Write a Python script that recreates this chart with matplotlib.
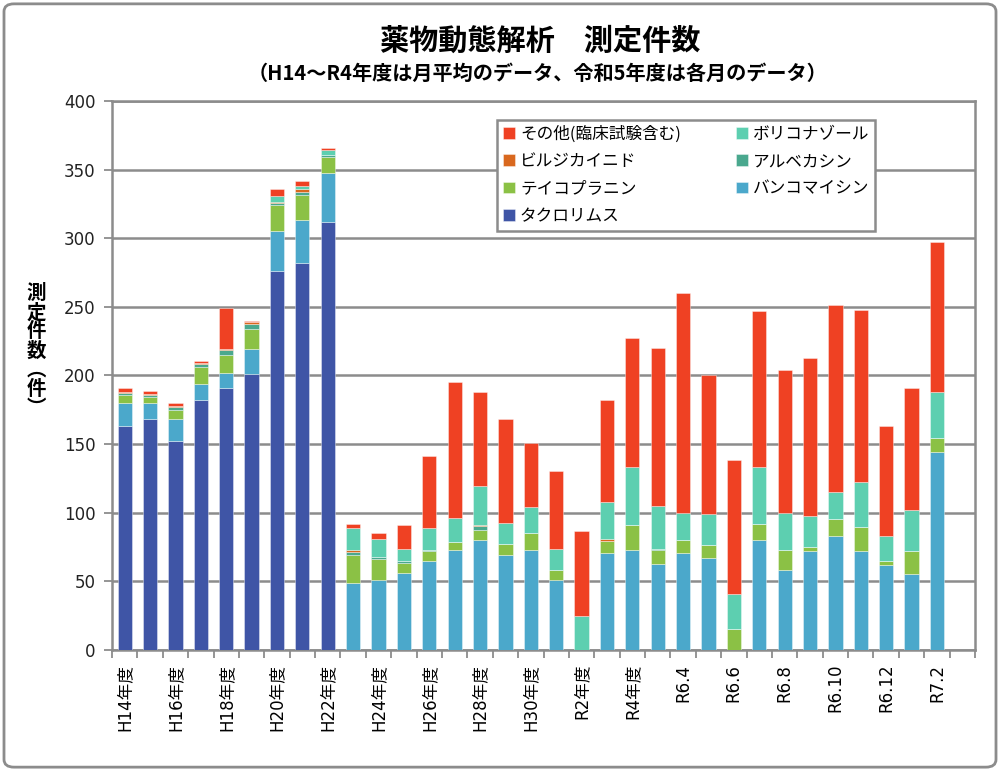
import matplotlib
matplotlib.use("Agg")
import matplotlib.pyplot as plt
from matplotlib.patches import FancyBboxPatch
import numpy as np

plt.rcParams['font.family'] = ['DejaVu Sans', 'Noto Sans CJK JP']

# categories (H14-R5: monthly averages, R6.4-R7.2: each month)
categories = ['H14年度', 'H15年度', 'H16年度', 'H17年度', 'H18年度', 'H19年度',
              'H20年度', 'H21年度', 'H22年度', 'H23年度', 'H24年度', 'H25年度',
              'H26年度', 'H27年度', 'H28年度', 'H29年度', 'H30年度', 'R1年度',
              'R2年度', 'R3年度', 'R4年度', 'R5年度',
              'R6.4', 'R6.5', 'R6.6', 'R6.7', 'R6.8', 'R6.9', 'R6.10',
              'R6.11', 'R6.12', 'R7.1', 'R7.2']

tacrolimus = [163, 168, 152.5, 182, 191, 201, 276, 282, 311.5,
              0, 0, 0, 0, 0, 0, 0, 0, 0, 0, 0, 0, 0,
              0, 0, 0, 0, 0, 0, 0, 0, 0, 0, 0]
vancomycin = [17, 12, 16, 12, 11, 18, 29, 31, 36,
              49, 51, 56, 64.5, 73, 80.3, 69.2, 73, 51, 0, 71, 72.5, 62.5,
              70.3, 67, 0, 80.3, 58.6, 72.3, 83, 72, 62, 55.2, 144.3]
teicoplanin = [6, 4.5, 6, 12, 13, 15, 19.5, 18.5, 11.5,
               20, 15, 7.5, 7.5, 6, 7.3, 8, 12.5, 7.5, 0, 8.5, 18.5, 10,
               9.5, 9.5, 15, 11.2, 14, 2.6, 12.6, 17.8, 2.7, 17, 10.2]
arbekacin = [1.5, 1.5, 2.5, 2, 3.5, 3.5, 1, 2.5, 1.5,
             2.5, 2, 1, 1, 0, 2.7, 0, 0, 0, 0, 0, 0, 0.7,
             0, 0, 0, 0, 0, 0, 0, 0, 0, 0, 0]
pilsicainide = [0.5, 0.5, 0.5, 1, 1, 1.5, 1.2, 1.7, 0,
                1, 0, 0, 0, 0, 1, 0, 0, 0, 0, 1, 0, 0,
                0, 0, 0, 0, 0, 0, 0, 0, 0, 0, 0]
voriconazole = [0, 0, 0, 0, 0, 0, 4.3, 2.6, 4,
                16, 12.5, 9, 16, 17, 28.4, 15.6, 18.5, 15, 25, 27.5, 42, 32,
                20, 22.5, 26, 42, 27, 22.5, 19.5, 32.8, 18.3, 30, 33.8]
others = [3, 2.5, 2.5, 1.5, 29.5, 0.5, 5, 3.2, 1,
          3.5, 5, 17.5, 52, 99, 68.3, 75.5, 46.7, 57, 62, 74, 94, 114.5,
          160, 101, 97.5, 113.5, 104.5, 115.4, 136.2, 125.3, 80, 88.5, 109.3]

series = [
    ('タクロリムス', tacrolimus, '#3F55A6'),
    ('バンコマイシン', vancomycin, '#4BA8CB'),
    ('テイコプラニン', teicoplanin, '#8BC145'),
    ('アルベカシン', arbekacin, '#4AA88E'),
    ('ビルジカイニド', pilsicainide, '#D9681E'),
    ('ボリコナゾール', voriconazole, '#5DCFB0'),
    ('その他(臨床試験含む)', others, '#EF4123'),
]

fig = plt.figure(figsize=(10, 7.71), dpi=100)
ax = fig.add_axes([0.112, 0.157, 0.863, 0.712])

x = np.arange(len(categories))
bottom = np.zeros(len(categories))
bars = {}
for name, vals, color in series:
    vals = np.array(vals, dtype=float)
    bars[name] = ax.bar(x, vals, 0.56, bottom=bottom, color=color,
                        edgecolor=(1, 1, 1, 0.45), linewidth=0.6, zorder=3)
    bottom += vals

grid_color = '#8C8C8C'
ax.set_ylim(0, 400)
ax.set_yticks(np.arange(0, 401, 50))
ax.set_xlim(-0.5, 33.5)
ax.yaxis.grid(True, color=grid_color, linewidth=1.8, zorder=0)
for s in ax.spines.values():
    s.set_color(grid_color)
    s.set_linewidth(1.8)

ax.set_xticks(x[::2])
ax.set_xticklabels(categories[::2], rotation=90, fontsize=12)
ax.set_xticks(np.arange(-0.5, 34, 1), minor=True)
ax.tick_params(axis='x', which='major', length=0, pad=10)
ax.tick_params(axis='x', which='minor', length=6, width=1.3, color=grid_color)
ax.tick_params(axis='y', length=6, width=1.3, color=grid_color, labelsize=12,
               labelcolor='#222222', pad=6)

# vertical y-axis label
fig.text(0.036, 0.545, '測\n定\n件\n数\n︵\n件\n︶', ha='center', va='center',
         fontsize=14, fontweight='bold', linespacing=1.0,
         family=['Noto Sans CJK JP', 'DejaVu Sans'])

fig.text(0.54, 0.947, '薬物動態解析　測定件数', ha='center', va='center',
         fontsize=21, fontweight='bold',
         family=['Noto Sans CJK JP', 'DejaVu Sans'])
fig.text(0.538, 0.905, '（H14～R4年度は月平均のデータ、令和5年度は各月のデータ）',
         ha='center', va='center', fontsize=14.5, fontweight='bold',
         family=['Noto Sans CJK JP', 'DejaVu Sans'])

# legend: Excel-style reverse order, filled row-wise over 2 columns
order = ['その他(臨床試験含む)', 'ビルジカイニド', 'テイコプラニン', 'タクロリムス',
         'ボリコナゾール', 'アルベカシン', 'バンコマイシン']
leg = ax.legend([bars[n] for n in order], order, ncol=2, loc='upper left',
                bbox_to_anchor=(0.437, 0.981), fontsize=12, fancybox=False,
                edgecolor=grid_color, framealpha=1, handlelength=0.7,
                handleheight=0.7, handletextpad=0.3, columnspacing=3.3,
                labelspacing=0.62, borderpad=0.35,
                prop={'family': ['Noto Sans CJK JP', 'DejaVu Sans'], 'size': 12})
leg.get_frame().set_linewidth(1.8)
leg.set_zorder(5)

# outer frame of the image
frame = FancyBboxPatch((0.004, 0.005), 0.992, 0.99, boxstyle='round,pad=0,rounding_size=0.01',
                       transform=fig.transFigure, fill=False, edgecolor=grid_color,
                       linewidth=2)
fig.patches.append(frame)

fig.savefig('out.png', dpi=100)
